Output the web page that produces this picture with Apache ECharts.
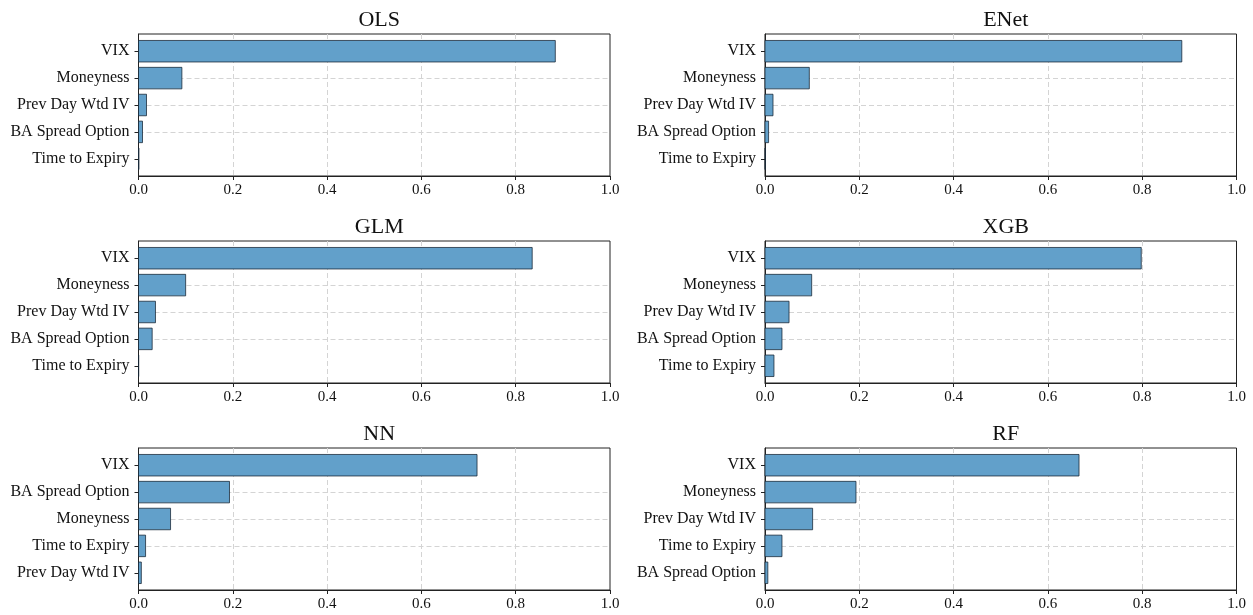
<!DOCTYPE html>
<html>
<head>
<meta charset="utf-8">
<script src="https://cdn.jsdelivr.net/npm/echarts@6/dist/echarts.min.js"></script>
<style>
html,body{margin:0;padding:0;background:#fff;}
#c{width:1253px;height:615px;}
</style>
</head>
<body>
<div id="c"></div>
<script>
// Model names (panel titles)
const models = ['OLS', 'ENet', 'GLM', 'XGB', 'NN', 'RF'];

// Features per panel, listed top to bottom
const olsFeatures  = ['VIX', 'Moneyness', 'Prev Day Wtd IV', 'BA Spread Option', 'Time to Expiry'];
const enetFeatures = ['VIX', 'Moneyness', 'Prev Day Wtd IV', 'BA Spread Option', 'Time to Expiry'];
const glmFeatures  = ['VIX', 'Moneyness', 'Prev Day Wtd IV', 'BA Spread Option', 'Time to Expiry'];
const xgbFeatures  = ['VIX', 'Moneyness', 'Prev Day Wtd IV', 'BA Spread Option', 'Time to Expiry'];
const nnFeatures   = ['VIX', 'BA Spread Option', 'Moneyness', 'Time to Expiry', 'Prev Day Wtd IV'];
const rfFeatures   = ['VIX', 'Moneyness', 'Prev Day Wtd IV', 'Time to Expiry', 'BA Spread Option'];

// Importance values (same order as the feature lists)
const olsValues  = [0.884, 0.092, 0.017, 0.0085, 0.001];
const enetValues = [0.884, 0.094, 0.017, 0.0076, 0.0005];
const glmValues  = [0.835, 0.100, 0.036, 0.029, 0.0005];
const xgbValues  = [0.798, 0.099, 0.051, 0.036, 0.019];
const nnValues   = [0.718, 0.193, 0.068, 0.015, 0.006];
const rfValues   = [0.666, 0.193, 0.101, 0.036, 0.006];

// X tick labels
const xTicks = [0, 0.2, 0.4, 0.6, 0.8, 1.0];

const featureSets = [olsFeatures, enetFeatures, glmFeatures, xgbFeatures, nnFeatures, rfFeatures];
const valueSets = [olsValues, enetValues, glmValues, xgbValues, nnValues, rfValues];

const FONT = 'Liberation Serif';
const lefts = [138.5, 765];
const tops = [34, 241, 448];
const W = 471.5, H = 142;

const grids = [], xAxes = [], yAxes = [], series = [], titles = [];
models.forEach((m, i) => {
  const col = i % 2, row = Math.floor(i / 2);
  const feats = featureSets[i];
  grids.push({
    left: lefts[col], top: tops[row], width: W, height: H,
    show: true, borderColor: '#222', borderWidth: 1, backgroundColor: 'transparent'
  });
  titles.push({
    text: m, left: lefts[col] + W / 2, top: tops[row] - 30, textAlign: 'center',
    textStyle: { fontFamily: FONT, fontSize: 22, fontWeight: 'normal', color: '#111' }
  });
  xAxes.push({
    type: 'value', gridIndex: i, min: 0, max: 1, interval: 0.2,
    axisLine: { show: true, onZero: false, lineStyle: { color: '#222', width: 1 } },
    axisTick: { show: true, length: 4, lineStyle: { color: '#222' } },
    axisLabel: { fontFamily: FONT, fontSize: 15, color: '#111', margin: 7,
      customValues: xTicks,
      formatter: v => v.toFixed(1) },
    splitLine: { show: true, showMinLine: false, showMaxLine: false,
      lineStyle: { color: '#d4d4d4', type: [5, 3], width: 1 } }
  });
  yAxes.push({
    type: 'value', gridIndex: i, min: -0.64, max: 4.64, inverse: true,
    axisLine: { show: true, onZero: false, lineStyle: { color: '#222', width: 1 } },
    axisTick: { show: true, length: 4, lineStyle: { color: '#222' }, customValues: [0, 1, 2, 3, 4] },
    axisLabel: { fontFamily: FONT, fontSize: 16, color: '#111', margin: 9,
      customValues: [0, 1, 2, 3, 4],
      formatter: v => feats[Math.round(v)] },
    splitLine: { show: true, showMinLine: false, showMaxLine: false,
      lineStyle: { color: '#d4d4d4', type: [5, 3], width: 1 } }
  });
  series.push({
    type: 'custom', xAxisIndex: i, yAxisIndex: i,
    encode: { x: 0, y: 1 },
    data: valueSets[i].map((v, k) => [v, k]),
    renderItem: function (params, api) {
      const p0 = api.coord([0, api.value(1)]);
      const p1 = api.coord([api.value(0), api.value(1)]);
      const h = Math.abs(api.size([0, 0.8])[1]);
      return {
        type: 'rect',
        shape: { x: p0[0], y: p0[1] - h / 2, width: p1[0] - p0[0], height: h },
        style: { fill: '#62a0ca', stroke: 'rgba(20,35,50,0.75)', lineWidth: 1 }
      };
    },
    z: 3
  });
});

const chart = echarts.init(document.getElementById('c'), null, { renderer: 'canvas' });
chart.setOption({
  animation: false,
  backgroundColor: '#fff',
  title: titles,
  grid: grids,
  xAxis: xAxes,
  yAxis: yAxes,
  series: series
});
</script>
</body>
</html>
